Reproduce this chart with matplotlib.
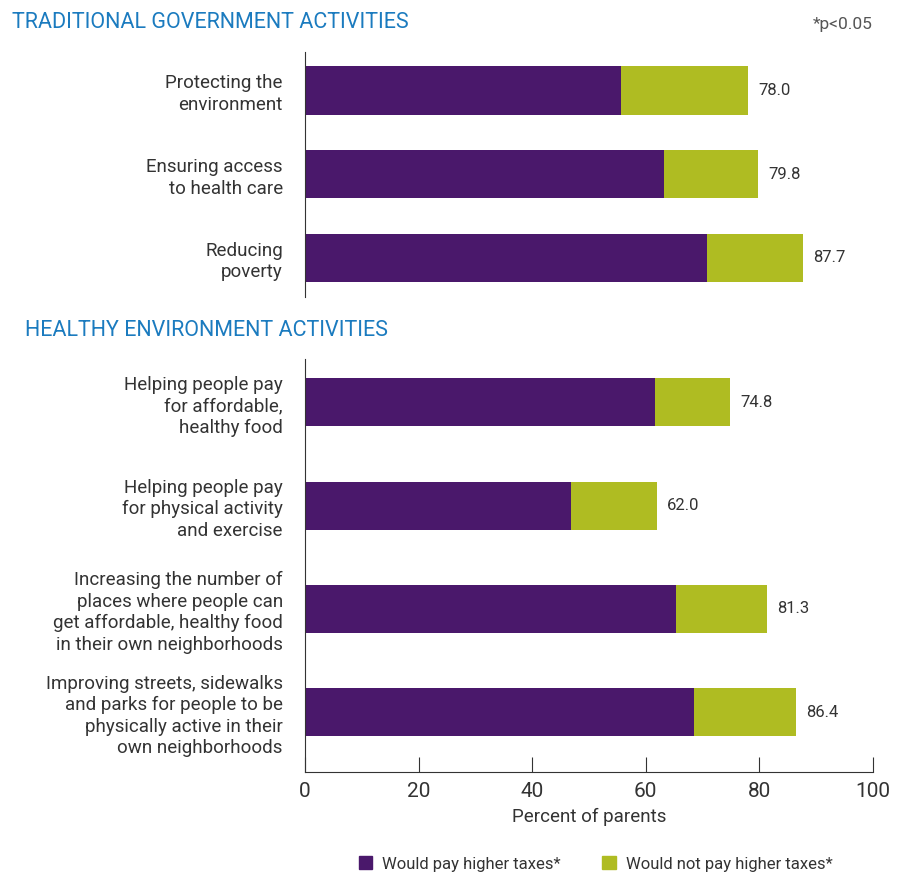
import matplotlib.pyplot as plt
from matplotlib.patches import Patch

# данные
top_labels = ['Protecting the\nenvironment', 'Ensuring access\nto health care', 'Reducing\npoverty']
top_pay = [55.6, 63.2, 70.8]
top_total = [78.0, 79.8, 87.7]

bot_labels = ['Helping people pay\nfor affordable,\nhealthy food',
              'Helping people pay\nfor physical activity\nand exercise',
              'Increasing the number of\nplaces where people can\nget affordable, healthy food\nin their own neighborhoods',
              'Improving streets, sidewalks\nand parks for people to be\nphysically active in their\nown neighborhoods']
bot_pay = [61.6, 46.8, 65.3, 68.5]
bot_total = [74.8, 62.0, 81.3, 86.4]

purple = '#4a186b'
green = '#afbc22'
blue = '#1b7bbf'
gray = '#333333'

plt.rcParams['font.family'] = ['Roboto', 'DejaVu Sans']

fig = plt.figure(figsize=(9.01, 8.74), dpi=100)
ax1 = fig.add_axes([0.3385, 0.6602, 0.6304, 0.2803])
ax2 = fig.add_axes([0.3385, 0.1167, 0.6304, 0.4725])


def draw(ax, labels, pay, total, height, ylim):
    y = list(range(len(labels)))
    rest = [t - p for t, p in zip(total, pay)]
    ax.barh(y, pay, height=height, color=purple)
    ax.barh(y, rest, left=pay, height=height, color=green)
    for yi, t in zip(y, total):
        ax.text(t + 1.8, yi, f'{t:.1f}', va='center', ha='left', fontsize=12, color=gray)
    ax.set_yticks(y)
    ax.set_yticklabels(labels, fontsize=13.5, color=gray, linespacing=1.25)
    ax.tick_params(axis='y', length=0, pad=16)
    ax.set_xlim(0, 100)
    ax.set_ylim(ylim)
    for s in ['top', 'right']:
        ax.spines[s].set_visible(False)
    ax.spines['left'].set_color(gray)


draw(ax1, top_labels, top_pay, top_total, 0.575, (2.47, -0.46))
draw(ax2, bot_labels, bot_pay, bot_total, 0.465, (3.58, -0.42))

ax1.spines['bottom'].set_visible(False)
ax1.set_xticks([])

ax2.spines['bottom'].set_color(gray)
ax2.set_xticks([0, 20, 40, 60, 80, 100])
ax2.tick_params(axis='x', direction='in', length=11, color=gray, labelsize=15, labelcolor=gray, pad=7)
ax2.set_xlabel('Percent of parents', fontsize=13.5, color=gray, labelpad=5)

fig.text(12 / 901, 1 - 22 / 874, 'TRADITIONAL GOVERNMENT ACTIVITIES', color=blue, fontsize=15.5, va='center', ha='left')
fig.text(25 / 901, 1 - 331 / 874, 'HEALTHY ENVIRONMENT ACTIVITIES', color=blue, fontsize=15.5, va='center', ha='left')
fig.text(873 / 901, 1 - 24 / 874, '*p<0.05', color='#555555', fontsize=12.5, va='center', ha='right')

handles = [Patch(color=purple, label='Would pay higher taxes*'),
           Patch(color=green, label='Would not pay higher taxes*')]
fig.legend(handles=handles, loc='center', bbox_to_anchor=(0.661, 1 - 864 / 874), ncol=2,
           frameon=False, fontsize=12, handlelength=0.8, handleheight=0.8, columnspacing=2.5,
           handletextpad=0.6, labelcolor=gray)

fig.savefig('out.png', dpi=100)
